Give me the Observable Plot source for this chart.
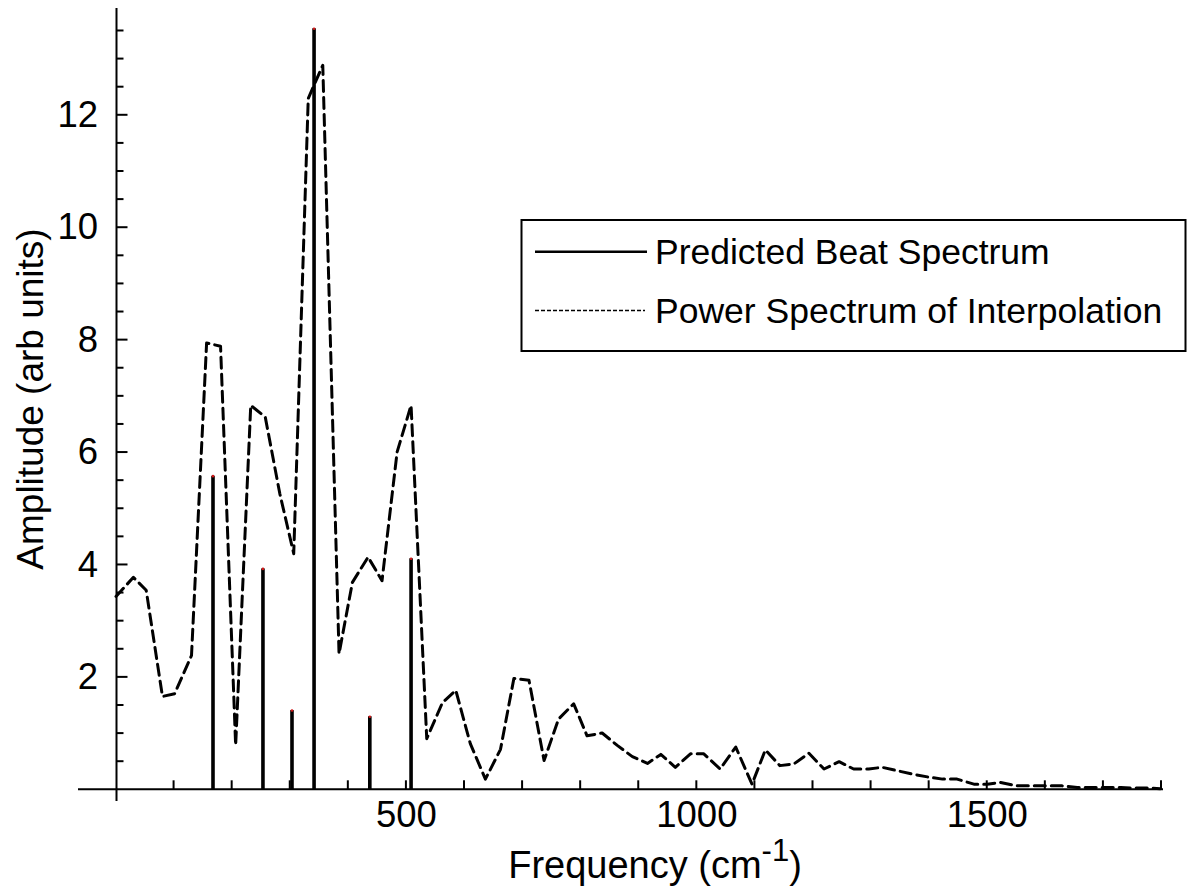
<!DOCTYPE html>
<html><head><meta charset="utf-8">
<script src="https://cdn.jsdelivr.net/npm/d3@7"></script>
<script src="https://cdn.jsdelivr.net/npm/@observablehq/plot@0.6"></script>
<style>
body{margin:0;background:#fff}
#chart{width:1197px;height:887px}
</style>
</head><body><div id="chart"></div>
<script>
// Power spectrum of interpolation (dashed)
const powerFreq = [0, 30, 52, 80, 101, 130, 156, 180, 206, 232, 257, 282, 306, 331, 356, 384, 407, 434, 458, 484, 508, 535, 562, 585, 610, 636, 662, 685, 711, 737, 762, 788, 811, 837, 863, 889, 915, 938, 963, 989, 1012, 1040, 1067, 1095, 1118, 1143, 1167, 1193, 1219, 1245, 1270, 1296, 1319, 1345, 1371, 1397, 1423, 1448, 1477, 1500, 1523, 1552, 1578, 1603, 1629, 1655, 1681, 1707, 1730, 1752, 1778, 1798];
const powerAmp = [3.44, 3.78, 3.55, 1.66, 1.71, 2.39, 7.95, 7.89, 0.79, 6.84, 6.63, 5.27, 4.20, 12.30, 12.89, 2.42, 3.69, 4.14, 3.72, 6.01, 6.84, 0.91, 1.55, 1.77, 0.82, 0.19, 0.72, 1.98, 1.95, 0.52, 1.26, 1.53, 0.96, 1.01, 0.79, 0.59, 0.47, 0.63, 0.40, 0.64, 0.64, 0.37, 0.76, 0.10, 0.71, 0.43, 0.46, 0.65, 0.37, 0.50, 0.37, 0.37, 0.40, 0.34, 0.28, 0.23, 0.19, 0.19, 0.10, 0.10, 0.13, 0.07, 0.07, 0.07, 0.07, 0.04, 0.04, 0.04, 0.04, 0.03, 0.03, 0.02];

// Predicted beat spectrum (stems)
const beatFreq = [167, 253, 303, 341, 437, 508];
const beatAmp = [5.58, 3.93, 1.41, 13.54, 1.30, 4.11];

// Axis ticks and labels
const xTickLabels = [500, 1000, 1500];
const yTickLabels = [2, 4, 6, 8, 10, 12];
const xMinorTicks = d3.range(100, 1801, 100);
const yMinorTicks = d3.range(0.5, 13.6, 0.5);

const legendLabels = ["Predicted Beat Spectrum", "Power Spectrum of Interpolation"];
const xTitle = ["Frequency (cm", "-1", ")"];
const yTitle = "Amplitude (arb units)";

const power = powerFreq.map((f, i) => ({f, a: powerAmp[i]}));
const beats = beatFreq.map((f, i) => ({f, a: beatAmp[i]}));

const FONT = "'Liberation Sans', Arial, Helvetica, sans-serif";

const plot = Plot.plot({
  width: 1197, height: 887,
  marginLeft: 115.5, marginRight: 36, marginTop: 8, marginBottom: 97.7,
  x: {domain: [0, 1800], axis: null},
  y: {domain: [0, 13.9], axis: null},
  style: {fontFamily: FONT, background: "white", overflow: "visible", color: "#000"},
  marks: [
    Plot.line(power, {x: "f", y: "a", stroke: "#000", strokeWidth: 3, strokeDasharray: "11,6"}),
    Plot.ruleX(beats, {x: "f", y1: 0, y2: "a", stroke: "#000", strokeWidth: 3.6}),
    Plot.dot(beats, {x: "f", y: "a", r: 1.3, fill: "#d01818"}),
    Plot.text(yTickLabels, {x: 0, y: d => d, text: d => String(d), textAnchor: "end", dx: -18, fontSize: 36.5, fill: "#000"}),
    Plot.text(xTickLabels, {x: d => d, y: 0, text: d => String(d), lineAnchor: "top", dy: 11, fontSize: 36.5, fill: "#000"})
  ]
});

document.getElementById("chart").appendChild(plot);

const svg = d3.select(plot);
const sx = plot.scale("x"), sy = plot.scale("y");
const X = v => sx.apply(v), Y = v => sy.apply(v);
const g = svg.append("g").attr("stroke", "#000").attr("stroke-width", 2).attr("fill", "none");
const x0 = X(0) + 1, y0 = Y(0);
// axis lines
g.append("line").attr("x1", 78).attr("x2", X(1800) + 2).attr("y1", y0).attr("y2", y0);
g.append("line").attr("x1", x0).attr("x2", x0).attr("y1", 8).attr("y2", 801);
// y ticks (inward)
yMinorTicks.forEach(v => {
  const major = yTickLabels.includes(v);
  g.append("line").attr("x1", x0).attr("x2", x0 + (major ? 11 : 7)).attr("y1", Y(v)).attr("y2", Y(v));
});
// x ticks (inward)
xMinorTicks.forEach(v => {
  g.append("line").attr("x1", X(v)).attr("x2", X(v)).attr("y1", y0).attr("y2", y0 - 9);
});

// axis titles
const t = svg.append("text").attr("x", 655).attr("y", 878).attr("text-anchor", "middle")
  .attr("font-family", FONT).attr("font-size", 38).attr("fill", "#000");
t.append("tspan").text(xTitle[0]);
t.append("tspan").attr("font-size", 31).attr("dy", -17).text(xTitle[1]);
t.append("tspan").attr("dy", 17).text(xTitle[2]);

svg.append("text").attr("transform", "translate(43,399) rotate(-90)").attr("text-anchor", "middle")
  .attr("font-family", FONT).attr("font-size", 37).attr("fill", "#000").text(yTitle);

// legend
const lg = svg.append("g");
lg.append("rect").attr("x", 521.5).attr("y", 220).attr("width", 664).attr("height", 131)
  .attr("fill", "white").attr("stroke", "#000").attr("stroke-width", 2);
lg.append("line").attr("x1", 535).attr("x2", 647).attr("y1", 251.7).attr("y2", 251.7)
  .attr("stroke", "#000").attr("stroke-width", 2.5);
lg.append("line").attr("x1", 535).attr("x2", 645).attr("y1", 310.5).attr("y2", 310.5)
  .attr("stroke", "#000").attr("stroke-width", 1.4).attr("stroke-dasharray", "4,2");
legendLabels.forEach((s, i) => {
  lg.append("text").attr("x", 655).attr("y", i ? 322.5 : 264).attr("text-anchor", "start")
    .attr("font-family", FONT).attr("font-size", 35.5).attr("fill", "#000").text(s);
});
</script>
</body></html>
